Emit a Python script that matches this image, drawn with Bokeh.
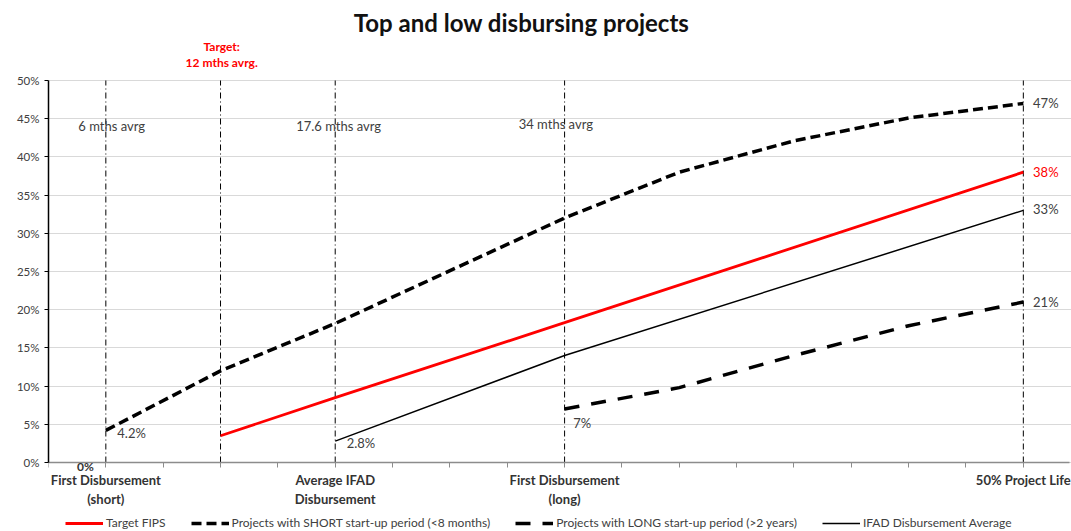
from bokeh.plotting import figure
from bokeh.models import (Range1d, FixedTicker, PrintfTickFormatter, Label, Legend,
                          LegendItem)
from bokeh.embed import file_html
from bokeh.resources import INLINE

# ---------------- data ----------------
cat_positions = list(range(18))
cat_labels = {1: "First Disbursement\n(short)", 5: "Average IFAD\nDisbursement",
              9: "First Disbursement\n(long)", 17: "50% Project Life"}
milestones = [1, 3, 5, 9, 17]

target_x = [3, 5, 9, 17]
target_y = [3.5, 8.5, 18.3, 38.0]

short_x = [1, 3, 5, 9, 11, 13, 15, 17]
short_y = [4.2, 12.0, 18.2, 32.0, 38.0, 42.1, 45.1, 47.0]

long_x = [9, 11, 13, 15, 17]
long_y = [7.0, 9.8, 14.0, 17.9, 21.0]

ifad_x = [5, 9, 17]
ifad_y = [2.8, 14.0, 33.0]

y_ticks = [0, 5, 10, 15, 20, 25, 30, 35, 40, 45, 50]

FONT = "Lato"
GREY = "#404040"

p = figure(width=1071, height=531, output_backend="svg", toolbar_location=None,
           x_range=Range1d(0, 17.84), y_range=Range1d(-9.03, 60.47),
           min_border_left=48, min_border_right=0, min_border_top=0,
           min_border_bottom=0)
p.outline_line_color = None
p.background_fill_color = "white"

# y axis
p.yaxis.ticker = FixedTicker(ticks=y_ticks)
p.yaxis.formatter = PrintfTickFormatter(format="%d%%")
p.yaxis.bounds = (0, 50)
p.yaxis.major_label_text_font = FONT
p.yaxis.major_label_text_font_size = "11.5px"
p.yaxis.major_label_text_color = GREY
p.yaxis.axis_line_color = "black"
p.yaxis.axis_line_width = 1.5
p.yaxis.major_tick_line_color = "black"
p.yaxis.major_tick_in = 0
p.yaxis.major_tick_out = 4
p.yaxis.minor_tick_line_color = None
p.yaxis.major_label_standoff = 5

# x axis drawn at y = 0
p.xaxis.fixed_location = 0
p.xaxis.bounds = (0, 17.8)
p.xaxis.ticker = FixedTicker(ticks=cat_positions)
p.xaxis.major_label_overrides = {i: cat_labels.get(i, "") for i in cat_positions}
p.xaxis.major_label_text_font = FONT
p.xaxis.major_label_text_font_size = "13px"
p.xaxis.major_label_text_font_style = "bold"
p.xaxis.major_label_text_color = "#333333"
p.xaxis.axis_line_color = "#8c8c8c"
p.xaxis.axis_line_width = 1.5
p.xaxis.major_tick_line_color = "#8c8c8c"
p.xaxis.major_tick_in = 0
p.xaxis.major_tick_out = 5
p.xaxis.minor_tick_line_color = None
p.xaxis.major_label_standoff = 4

p.xgrid.grid_line_color = None
p.ygrid.grid_line_color = "#d9d9d9"
p.ygrid.grid_line_width = 1

# milestone dash-dot verticals
for m in milestones:
    p.segment(x0=m, y0=0, x1=m, y1=50, line_color="black", line_width=1,
              line_dash="6 3 1 3")

r_target = p.line(target_x, target_y, line_color="#ff0000", line_width=2.8)
r_short = p.line(short_x, short_y, line_color="black", line_width=3.5, line_dash="10 5")
r_long = p.line(long_x, long_y, line_color="black", line_width=3.5, line_dash="15 12")
r_ifad = p.line(ifad_x, ifad_y, line_color="black", line_width=1.5)

# texts
def lab(x, y, t, color=GREY, size="13px", style="normal", align="left", base="middle"):
    p.add_layout(Label(x=x, y=y, text=t, text_font=FONT, text_font_size=size,
                       text_color=color, text_font_style=style, text_align=align,
                       text_baseline=base))

lab(8.25, 57.6, "Top and low disbursing projects", color="#111111", size="24px",
    style="bold", align="center")
lab(3.02, 54.45, "Target:", color="#ff0000", size="12px", style="bold", align="center")
lab(3.02, 52.36, "12 mths avrg.", color="#ff0000", size="12px", style="bold", align="center")

lab(1.2, 3.9, "4.2%")
lab(5.2, 2.6, "2.8%")
lab(9.15, 5.2, "7%")
lab(17.17, 47.0, "47%")
lab(17.17, 38.0, "38%", color="#ff0000")
lab(17.17, 33.2, "33%")
lab(17.17, 21.0, "21%")
lab(0.52, 44.0, "6 mths avrg")
lab(4.32, 44.0, "17.6 mths avrg")
lab(8.2, 44.3, "34 mths avrg")
lab(0.645, -0.55, "0%", color="#333333", size="12px", style="bold", align="center")

legend = Legend(items=[
    LegendItem(label="Target FIPS", renderers=[r_target]),
    LegendItem(label="Projects with SHORT start-up period (<8 months)", renderers=[r_short]),
    LegendItem(label="Projects with LONG start-up period (>2 years)", renderers=[r_long]),
    LegendItem(label="IFAD Disbursement Average", renderers=[r_ifad]),
], orientation="horizontal", location=(17, 1),
    label_text_font=FONT, label_text_font_size="12px", label_text_color=GREY,
    glyph_width=38, glyph_height=12, label_standoff=3, spacing=25,
    padding=0, margin=0, border_line_color=None, background_fill_alpha=0)
p.add_layout(legend, "center")

open("out.html", "w").write(file_html(p, INLINE))
